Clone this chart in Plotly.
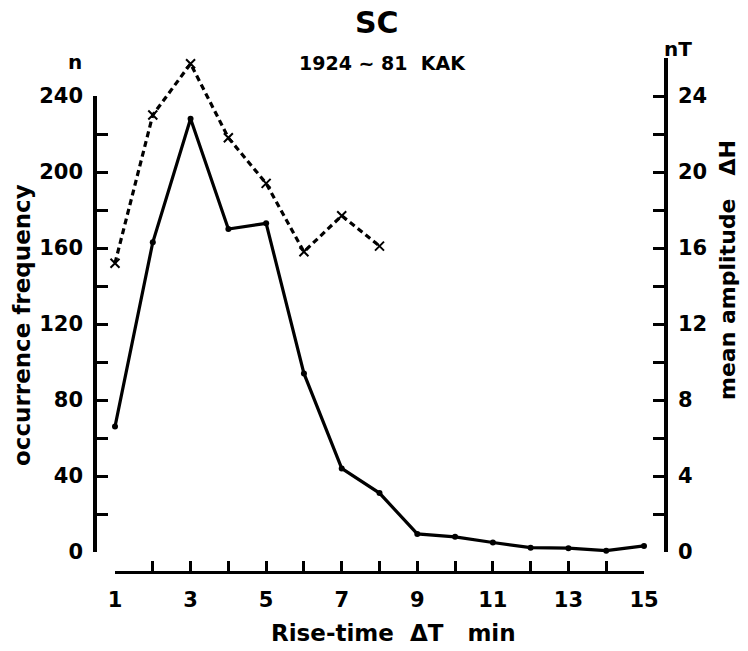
import plotly.graph_objects as go

# Rise-time of SC events (minutes)
rise_time = list(range(1, 16))
# Number of events per rise-time bin
occurrence = [66, 163, 228, 170, 173, 94, 44, 31, 9.5, 8, 5, 2.3, 2, 0.7, 3.2]
# Mean ΔH amplitude (nT), available for the first eight bins
amp_time = list(range(1, 9))
amplitude = [15.2, 23.0, 25.7, 21.8, 19.4, 15.8, 17.7, 16.1]

n_ticks = list(range(0, 241, 20))
n_labels = [str(v) if v % 40 == 0 else "" for v in n_ticks]
nt_ticks = list(range(0, 27, 2))
nt_labels = [str(v) if v % 4 == 0 and v <= 24 else "" for v in nt_ticks]
x_ticks = list(range(1, 16))
x_labels = [str(v) if v % 2 == 1 else "" for v in x_ticks]

W, H = 748, 651
FONT = "DejaVu Sans"


def px_x(p):
    return p / W


def px_y(p):
    return 1 - p / H


# pixel geometry of the frame
x_first, x_last = 115, 644          # pixels of rise-time 1 and 15
step = (x_last - x_first) / 14
left_px, right_px = 97, 664
y0_px = 552
y_top_n = 96
y_top_nt = 58

fig = go.Figure()

fig.add_trace(go.Scatter(
    x=rise_time, y=occurrence, xaxis="x", yaxis="y",
    mode="lines+markers",
    line=dict(color="black", width=3.2),
    marker=dict(symbol="circle", size=6, color="black"),
    cliponaxis=False, showlegend=False, hoverinfo="skip",
))

fig.add_trace(go.Scatter(
    x=amp_time, y=amplitude, xaxis="x", yaxis="y2",
    mode="lines+markers",
    line=dict(color="black", width=3.2, dash="6px,4px"),
    marker=dict(symbol="x-thin-open", size=9, color="black",
                line=dict(color="black", width=2)),
    cliponaxis=False, showlegend=False, hoverinfo="skip",
))

# carrier trace so the drawn rise-time axis gets its own subplot
fig.add_trace(go.Scatter(x=[], y=[], xaxis="x2", yaxis="y",
                         showlegend=False, hoverinfo="skip"))

tickfont = dict(family=FONT, size=21, color="black", weight="bold")

fig.update_layout(
    width=W, height=H, autosize=False,
    margin=dict(l=0, r=0, t=0, b=0, pad=0, autoexpand=False),
    paper_bgcolor="white", plot_bgcolor="rgba(0,0,0,0)",
    showlegend=False,
    xaxis=dict(
        domain=[px_x(left_px), px_x(right_px)],
        range=[1 - (x_first - left_px) / step, 15 + (right_px - x_last) / step],
        visible=False, anchor="y", automargin=False,
    ),
    xaxis2=dict(
        domain=[px_x(x_first), px_x(x_last)],
        range=[1, 15],
        anchor="free", position=px_y(572), automargin=False,
        showline=True, linecolor="black", linewidth=3,
        ticks="inside", ticklen=10, tickwidth=2.5, tickcolor="black",
        tickvals=x_ticks, ticktext=x_labels, tickfont=tickfont,
        ticklabelstandoff=8,
        showgrid=False, zeroline=False,
    ),
    yaxis=dict(
        domain=[px_y(y0_px), px_y(y_top_n)],
        range=[0, 240], anchor="x", side="left", automargin=False,
        showline=True, linecolor="black", linewidth=3.5,
        ticks="inside", ticklen=11, tickwidth=2.5, tickcolor="black",
        tickvals=n_ticks, ticktext=n_labels, tickfont=tickfont,
        ticklabelstandoff=6,
        showgrid=False, zeroline=False,
    ),
    yaxis2=dict(
        domain=[px_y(y0_px), px_y(y_top_nt)],
        range=[0, 26], anchor="x", side="right", automargin=False,
        showline=True, linecolor="black", linewidth=3.5,
        ticks="inside", ticklen=11, tickwidth=2.5, tickcolor="black",
        tickvals=nt_ticks, ticktext=nt_labels, tickfont=tickfont,
        ticklabelstandoff=6,
        showgrid=False, zeroline=False,
    ),
)

def label(text, x, y, size, angle=0):
    fig.add_annotation(
        text=text, x=px_x(x), y=px_y(y), xref="paper", yref="paper",
        showarrow=False, textangle=angle, xanchor="center", yanchor="middle",
        font=dict(family=FONT, size=size, color="black", weight="bold"),
    )

label("SC", 377, 22, 30)
label("1924\u00a0~\u00a081\u00a0\u00a0KAK", 382, 63, 19)
label("n", 75, 62, 20)
label("nT", 678, 49, 20)
label("occurrence frequency", 22, 325, 23, -90)
label("mean amplitude\u00a0\u00a0\u00a0\u0394H", 727, 270, 22, -90)
label("Rise-time\u00a0\u00a0\u0394T\u00a0\u00a0\u00a0min", 393, 633, 23)

fig.write_html("out.html")
